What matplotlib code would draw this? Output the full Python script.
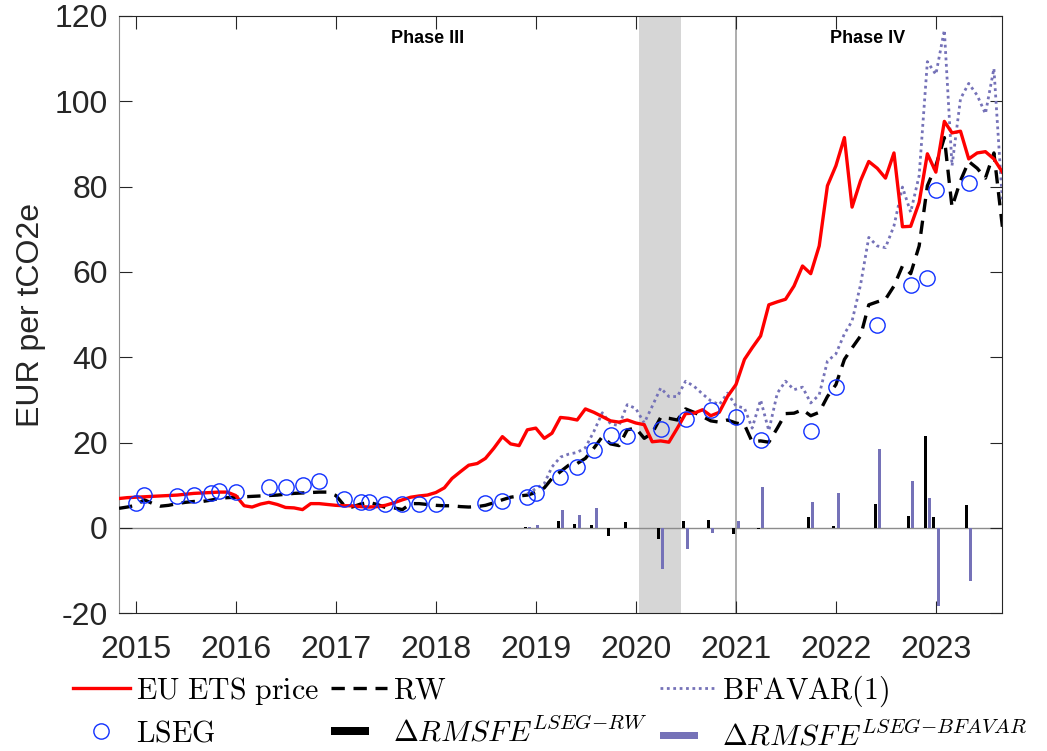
import numpy as np
import pandas as pd
import matplotlib
matplotlib.use('Agg')
import matplotlib.pyplot as plt
import matplotlib.dates as mdates
import matplotlib.patches as mpatches
from matplotlib.legend_handler import HandlerPatch

plt.rcParams['font.family'] = 'Liberation Sans'
plt.rcParams['mathtext.fontset'] = 'cm'
plt.rcParams['axes.unicode_minus'] = False

# monthly series, Nov 2014 .. Sep 2023
months = pd.date_range('2014-11-01', '2023-09-01', freq='MS')

ets_price = [6.9, 7.1, 7.2, 7.3, 7.4, 7.5, 7.6, 7.7, 7.9, 8.1, 8.2, 8.3,
             8.4, 8.4, 7.6, 5.2, 4.9, 5.6, 6.0, 5.5, 4.8, 4.7, 4.3, 5.7,
             5.7, 5.5, 5.3, 5.2, 5.2, 5.0, 4.9, 5.0, 5.3, 5.9, 6.6, 7.2,
             7.5, 7.7, 8.3, 9.4, 11.6, 13.2, 14.7, 15.1, 16.3, 18.7, 21.4, 19.7,
             19.3, 23.0, 23.4, 21.0, 22.2, 25.9, 25.7, 25.3, 27.9, 27.1, 26.1, 25.1,
             24.8, 25.3, 24.6, 24.2, 20.2, 20.4, 20.1, 23.4, 26.8, 26.9, 27.7, 26.3,
             27.1, 30.8, 33.6, 39.5, 42.2, 45.0, 52.3, 53.0, 53.6, 56.7, 61.4, 59.6,
             66.1, 80.2, 84.9, 91.5, 75.2, 81.4, 85.9, 84.3, 82.0, 87.9, 70.6, 70.7,
             76.3, 87.7, 83.4, 95.3, 92.6, 93.0, 86.5, 87.9, 88.2, 86.5, 83.4]

rw_forecast = [4.6, 4.9, 5.3, 6.6, 5.8, 5.1, 5.3, 5.7, 6.0, 6.2, 6.2, 6.5,
               6.9, 7.1, 7.2, 7.3, 7.4, 7.5, 7.6, 7.7, 7.9, 8.1, 8.2, 8.3,
               8.4, 8.4, 7.6, 5.2, 4.9, 5.6, 6.0, 5.5, 4.8, 4.7, 4.3, 5.7,
               5.7, 5.5, 5.3, 5.2, 5.2, 5.0, 4.9, 5.0, 5.3, 5.9, 6.6, 7.2,
               7.5, 7.7, 8.3, 9.4, 11.6, 13.2, 14.7, 15.1, 16.3, 18.7, 21.4, 19.7,
               19.3, 23.0, 23.4, 21.0, 22.2, 25.9, 25.7, 25.3, 27.9, 27.1, 26.1, 25.1,
               24.8, 25.3, 24.6, 24.2, 20.2, 20.4, 20.1, 23.4, 26.8, 26.9, 27.7, 26.3,
               27.1, 30.8, 33.6, 39.5, 42.2, 45.0, 52.3, 53.0, 53.6, 56.7, 61.4, 59.6,
               66.1, 80.2, 84.9, 91.5, 75.2, 81.4, 85.9, 84.3, 82.0, 87.9, 70.6]

# BFAVAR(1) forecast, Dec 2018 .. Sep 2023
bf_months = pd.date_range('2018-12-01', '2023-09-01', freq='MS')
bfavar = [8.0, 9.2, 10.4, 14.3, 16.6, 17.3, 17.7, 18.8, 22.6, 27.0, 24.4, 24.0,
          28.9, 28.0, 24.6, 28.5, 32.8, 30.8, 30.8, 34.4, 33.2, 31.4, 29.8, 28.9,
          31.6, 28.6, 28.1, 23.4, 30.0, 22.8, 31.6, 34.4, 32.4, 33.0, 29.3, 31.2,
          39.1, 40.8, 45.5, 48.5, 57.0, 68.1, 66.1, 65.7, 70.8, 79.9, 74.0, 82.6,
          109.3, 106.3, 116.7, 84.9, 100.6, 104.2, 101.4, 97.1, 107.7, 76.5]

# LSEG analyst forecasts
lseg_dates = ['2015-01', '2015-02', '2015-06', '2015-08', '2015-10', '2015-11',
              '2016-01', '2016-05', '2016-07', '2016-09', '2016-11', '2017-02',
              '2017-04', '2017-05', '2017-07', '2017-09', '2017-11', '2018-01',
              '2018-07', '2018-09', '2018-12', '2019-01', '2019-04', '2019-06',
              '2019-08', '2019-10', '2019-12', '2020-04', '2020-07', '2020-10',
              '2021-01', '2021-04', '2021-10', '2022-01', '2022-06', '2022-10',
              '2022-12', '2023-01', '2023-05']
lseg = [5.9, 7.7, 7.5, 7.7, 8.2, 8.6,
        8.5, 9.5, 9.6, 10.0, 11.0, 6.8,
        6.0, 6.1, 5.7, 5.6, 5.7, 5.6,
        5.8, 6.4, 7.3, 8.1, 11.9, 14.4,
        18.3, 21.8, 21.6, 23.3, 25.6, 27.7,
        26.0, 20.5, 22.8, 33.0, 47.5, 56.9,
        58.7, 79.2, 80.8]

# RMSFE differences
bar_dates = ['2018-12', '2019-01', '2019-04', '2019-06', '2019-08', '2019-10',
             '2019-12', '2020-04', '2020-07', '2020-10', '2021-01', '2021-04',
             '2021-10', '2022-01', '2022-06', '2022-10', '2022-12', '2023-01',
             '2023-05']
d_rmsfe_rw = [0.2, 0.1, 1.7, 1.0, 0.6, -2.0, 1.4, -2.5, 1.6, 1.8, -1.4, -0.2,
              2.5, 0.5, 5.6, 2.9, 21.6, 2.5, 5.3]
d_rmsfe_bf = [0.2, 0.8, 4.1, 3.0, 4.7, 0.0, 0.0, -9.6, -5.0, -1.2, 1.7, 9.6,
              6.0, 8.2, 18.4, 11.1, 7.1, -18.4, -12.5]

c_red = '#ff0000'
c_purple = '#7572b8'
c_blue = '#1030ff'
c_dark = '#262626'
c_grey = '#a0a0a0'

fig = plt.figure(figsize=(10.47, 7.51), dpi=100)
ax = fig.add_axes([0.1137, 0.1834, 0.8437, 0.7953])

x_m = mdates.date2num(months)
x_bf = mdates.date2num(bf_months)
x_ls = mdates.date2num(pd.to_datetime(lseg_dates))
x_bar = mdates.date2num(pd.to_datetime(bar_dates))

# covid band, phase IV line, zero line
ax.axvspan(mdates.date2num(pd.Timestamp('2020-01-14')),
           mdates.date2num(pd.Timestamp('2020-06-14')),
           color='#d6d6d6', lw=0, zorder=0)
ax.axvline(mdates.date2num(pd.Timestamp('2021-01-01')), color=c_grey, lw=1.2, zorder=1)
ax.axhline(0, color='#8c8c8c', lw=1.0, zorder=1)

bars_rw = ax.bar(x_bar - 8, d_rmsfe_rw, width=11, color='black', lw=0, zorder=2)
bars_bf = ax.bar(x_bar + 8, d_rmsfe_bf, width=11, color=c_purple, lw=0, zorder=2)

l_price, = ax.plot(x_m, ets_price, color=c_red, lw=2.4, zorder=4)
l_rw, = ax.plot(x_m, rw_forecast, color='black', lw=2.4, dashes=(4, 2.6), zorder=3)
l_bf, = ax.plot(x_bf, bfavar, color=c_purple, lw=2.0, dashes=(1, 1.3), zorder=3)
l_ls, = ax.plot(x_ls, lseg, ls='none', marker='o', ms=11, mfc='none',
                mec=c_blue, mew=1.0, zorder=5)

ax.text(mdates.date2num(pd.Timestamp('2017-12-01')), 114.8, 'Phase III',
        ha='center', va='center', fontsize=13, fontweight='bold', color='black')
ax.text(mdates.date2num(pd.Timestamp('2022-04-28')), 114.8, 'Phase IV',
        ha='center', va='center', fontsize=13, fontweight='bold', color='black')

ax.set_xlim(mdates.date2num(pd.Timestamp('2014-11-01')),
            mdates.date2num(pd.Timestamp('2023-09-01')))
ax.set_ylim(-20, 120)
years = list(range(2015, 2024))
ax.set_xticks(mdates.date2num(pd.to_datetime([f'{y}-01-01' for y in years])))
ax.set_xticklabels([str(y) for y in years])
ax.set_yticks(range(-20, 121, 20))
ax.tick_params(direction='in', top=True, right=True, length=9, width=0.8,
               labelsize=23, colors=c_dark)
ax.tick_params(axis='x', pad=16)
ax.tick_params(axis='y', pad=8)
for side in ['top', 'right', 'bottom']:
    ax.spines[side].set_color(c_dark)
ax.spines['left'].set_color('#8c8c8c')
ax.set_ylabel('EUR per tCO2e', fontsize=23, color=c_dark)
ax.yaxis.set_label_coords(-0.083, 0.5)


def bar_handle(legend, orig_handle, xdescent, ydescent, width, height, fontsize):
    return mpatches.Rectangle((-xdescent, -ydescent + height * 0.3),
                              width * 0.68, height * 0.38)


handles = [l_price, l_ls, l_rw, bars_rw.patches[0], l_bf, bars_bf.patches[0]]
labels = [r'$\mathrm{EU\ ETS\ price}$', r'$\mathrm{LSEG}$', r'$\mathrm{RW}$',
          r'$\Delta RMSFE^{LSEG{-}RW}$', r'$\mathrm{BFAVAR(1)}$',
          r'$\Delta RMSFE^{LSEG{-}BFAVAR}$']
fig.legend(handles, labels, ncol=3, loc='center left',
           bbox_to_anchor=(73 / 1047, 0.051), frameon=False, fontsize=21.5,
           handlelength=1.9, handletextpad=0.2, columnspacing=0.4,
           labelspacing=0.42, borderpad=0, borderaxespad=0,
           handler_map={mpatches.Rectangle: HandlerPatch(patch_func=bar_handle)})

fig.savefig('out.png', dpi=100)
